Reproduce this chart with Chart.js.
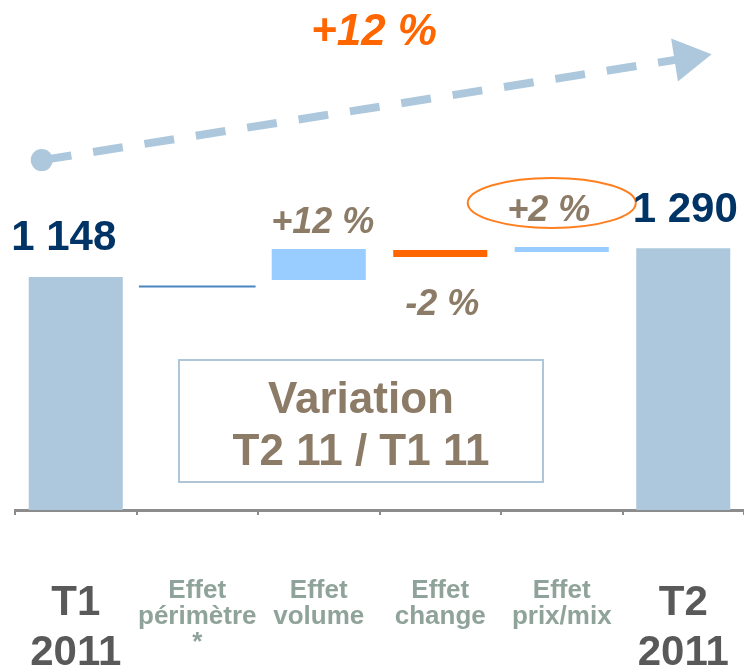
<!DOCTYPE html>
<html>
<head>
<meta charset="utf-8">
<script src="https://cdn.jsdelivr.net/npm/chart.js@4.4.1/dist/chart.umd.min.js"></script>
<style>
  html, body { margin: 0; padding: 0; background: #fff; }
</style>
</head>
<body>
<canvas id="chart" width="744" height="671"></canvas>
<script>
// categories along the bottom axis
const categories = [
    ['T1', '2011'],
    ['Effet', 'périmètre', '*'],
    ['Effet', 'volume'],
    ['Effet', 'change'],
    ['Effet', 'prix/mix'],
    ['T2', '2011']
];

// floating bars: low / high ends
const barLow = [0, null, 1133, 1247, 1271, 0];
const barHigh = [1148, null, 1286, 1281, 1296, 1290];
const barColors = ['#adc8dc', null, '#99ccff', '#ff6600', '#99ccff', '#adc8dc'];

// périmètre effect is just a flat line
const perimetreLow = [null, 1096, null, null, null, null];
const perimetreHigh = [null, 1106, null, null, null, null];

const valueLabels = ['1 148', '', '+12 %', '-2 %', '+2 %', '1 290'];

// dashed trend arrow (x in category units, y in values)
const trendX = [0.22, 5.53];
const trendY = [1724, 2227];
const trendLabel = '+12 %';
const boxLines = ['Variation', 'T2 11 / T1 11'];

const FONT = 'Arial, "Liberation Sans", sans-serif';
const BROWN = '#8c7b66';
const NAVY = '#003366';

const annotations = {
    id: 'annotations',
    afterDatasetsDraw(chart) {
        const c = chart.ctx;
        const bars = chart.getDatasetMeta(0).data;
        // dx, dy from bar (negative = above top, positive = below bottom)
        const offs = [[-12, -27], [0, 0], [4, -16], [2, 58], [-13, -26], [2, -26]];

        c.save();
        c.textAlign = 'center';
        c.textBaseline = 'alphabetic';

        valueLabels.forEach((txt, i) => {
            if (!txt) return;
            const b = bars[i];
            const top = Math.min(b.y, b.base);
            const bottom = Math.max(b.y, b.base);
            const x = b.x + offs[i][0];
            const y = offs[i][1] < 0 ? top + offs[i][1] : bottom + offs[i][1];
            if (i === 0 || i === 5) {
                c.font = 'bold 42px ' + FONT;
                c.fillStyle = NAVY;
            } else {
                c.font = 'italic bold 36px ' + FONT;
                c.fillStyle = BROWN;
            }
            c.fillText(txt, x, y);
            if (i === 4) {
                c.beginPath();
                c.ellipse(x + 3, y - 18, 84, 25, 0, 0, Math.PI * 2);
                c.strokeStyle = '#ff7f1f';
                c.lineWidth = 2;
                c.stroke();
            }
        });

        // headline over the arrow
        c.font = 'italic bold 44px ' + FONT;
        c.fillStyle = '#ff6600';
        c.fillText(trendLabel, chart.width / 2 + 2, 45);

        // framed caption
        c.strokeStyle = '#afc6d8';
        c.lineWidth = 2;
        c.strokeRect(179, 360, 364, 122);
        c.font = 'bold 44px ' + FONT;
        c.fillStyle = BROWN;
        c.fillText(boxLines[0], 361, 413);
        c.fillText(boxLines[1], 361, 465);
        c.restore();
    }
};

const ctx = document.getElementById('chart');

new Chart(ctx, {
    type: 'bar',
    data: {
        labels: categories,
        datasets: [{
            data: barLow.map((v, i) => v == null ? null : [v, barHigh[i]]),
            backgroundColor: barColors,
            barPercentage: 0.774,
            categoryPercentage: 1,
            grouped: false,
            order: 2
        }, {
            data: perimetreLow.map((v, i) => v == null ? null : [v, perimetreHigh[i]]),
            backgroundColor: '#4a86c1',
            barPercentage: 0.96,
            categoryPercentage: 1,
            grouped: false,
            order: 2
        }, {
            type: 'line',
            xAxisID: 'xt',
            data: trendX.map((x, i) => ({ x: x, y: trendY[i] })),
            borderColor: '#adc8dc',
            borderWidth: 8,
            borderDash: [30, 22],
            borderCapStyle: 'butt',
            pointStyle: ['circle', 'triangle'],
            pointRadius: [11, 25],
            pointRotation: [0, 81],
            pointBackgroundColor: '#adc8dc',
            pointBorderWidth: 0,
            fill: false,
            clip: false,
            order: 1
        }]
    },
    options: {
        responsive: false,
        animation: false,
        layout: { autoPadding: false, padding: { left: 15, right: 0, top: 0, bottom: 0 } },
        plugins: {
            legend: { display: false },
            tooltip: { enabled: false },
            title: { display: false }
        },
        scales: {
            x: {
                offset: true,
                grid: {
                    display: true,
                    offset: true,
                    drawOnChartArea: false,
                    drawTicks: true,
                    tickLength: 5,
                    color: '#8c8c8c',
                    lineWidth: 2
                },
                border: { display: true, color: '#8c8c8c', width: 3 },
                ticks: {
                    autoSkip: false,
                    maxRotation: 0,
                    minRotation: 0,
                    padding: 63,
                    color: (c) => (c.index === 0 || c.index === 5) ? '#595959' : '#8fa39a',
                    font: (c) => (c.index === 0 || c.index === 5)
                        ? { family: FONT, size: 42, weight: 'bold', lineHeight: 1.19 }
                        : { family: FONT, size: 26, weight: 'bold', lineHeight: 1.0 }
                },
                afterFit: (s) => {
                    s.height = 161;
                    s.paddingLeft = 0;
                    s.paddingRight = 0;
                }
            },
            xt: {
                type: 'linear',
                display: false,
                offset: false,
                grid: { offset: false },
                min: 0,
                max: 6
            },
            y: {
                display: false,
                min: 0,
                max: 2513
            }
        }
    },
    plugins: [annotations]
});
</script>
</body>
</html>
